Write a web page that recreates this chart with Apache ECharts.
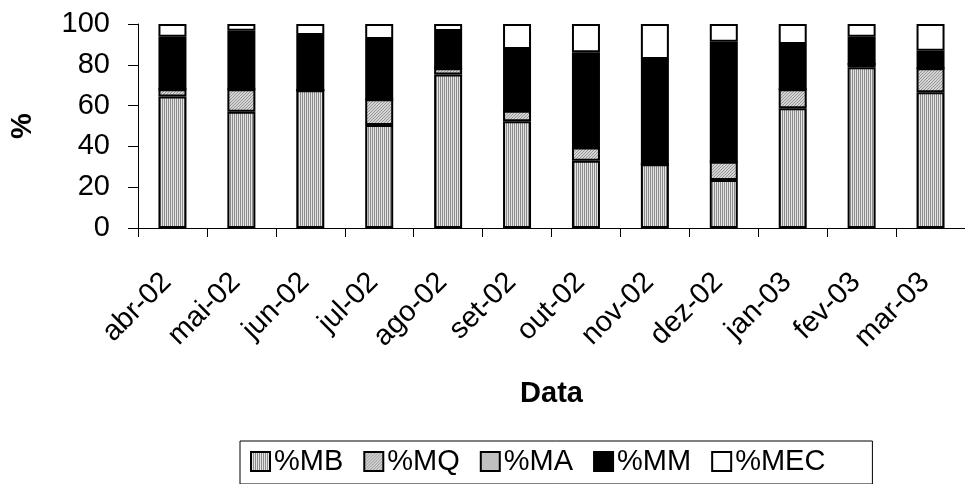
<!DOCTYPE html>
<html>
<head>
<meta charset="utf-8">
<script src="https://cdn.jsdelivr.net/npm/echarts@6/dist/echarts.min.js"></script>
<style>
  html, body { margin: 0; padding: 0; background: #fff; }
  #chart { width: 965px; height: 484px; }
</style>
</head>
<body>
<div id="chart"></div>
<script>
// Monthly share (%) of each class, stacked to 100
const months = ['abr-02', 'mai-02', 'jun-02', 'jul-02', 'ago-02', 'set-02',
                'out-02', 'nov-02', 'dez-02', 'jan-03', 'fev-03', 'mar-03'];
const pctMB  = [64.5, 57.0, 67.5, 50.5, 75.3, 52.3, 33.0, 31.2, 23.5, 58.7, 78.8, 66.5];
const pctMQ  = [3.5, 11.0, 0.0, 12.6, 3.0, 5.2, 6.5, 0.0, 9.0, 9.3, 1.6, 11.8];
const pctMA  = [0, 0, 0, 0, 0, 0, 0, 0, 0, 0, 0, 0];
const pctMM  = [25.8, 28.7, 27.1, 29.5, 18.3, 30.2, 46.6, 51.6, 58.8, 22.2, 13.4, 8.6];
const pctMEC = [6.2, 3.3, 5.4, 7.4, 3.4, 12.3, 13.9, 17.2, 8.7, 9.8, 6.2, 13.1];
const yTicks = [0, 20, 40, 60, 80, 100];

const FONT = '"Liberation Sans", Arial, sans-serif';

// Fill patterns built on small canvases
function tile(w, h, draw) {
  const c = document.createElement('canvas');
  c.width = w; c.height = h;
  const ctx = c.getContext('2d');
  draw(ctx);
  return { image: c, repeat: 'repeat' };
}
const vStripes = tile(2, 2, ctx => {
  ctx.fillStyle = '#e4e4e4'; ctx.fillRect(0, 0, 2, 2);
  ctx.fillStyle = '#8c8c8c'; ctx.fillRect(0, 0, 1, 2);
});
const diagHatch = tile(3, 3, ctx => {
  ctx.fillStyle = '#d4d4d4'; ctx.fillRect(0, 0, 3, 3);
  ctx.fillStyle = '#969696';
  for (let i = 0; i < 3; i++) ctx.fillRect(2 - i, i, 1, 1);
});

const names = ['%MB', '%MQ', '%MA', '%MM', '%MEC'];
const values = [pctMB, pctMQ, pctMA, pctMM, pctMEC];
const fills = [vStripes, diagHatch, '#c0c0c0', '#000000', '#ffffff'];

const chart = echarts.init(document.getElementById('chart'), null, { renderer: 'canvas' });
chart.setOption({
  animation: false,
  backgroundColor: '#ffffff',
  textStyle: { fontFamily: FONT, color: '#000' },
  grid: { left: 138, top: 24, width: 840, height: 204, containLabel: false },
  legend: {
    data: names,
    left: 240,
    top: 441,
    icon: 'rect',
    itemWidth: 19,
    itemHeight: 19,
    itemGap: 20,
    padding: [6, 47, 8, 10],
    borderColor: '#000',
    borderWidth: 1,
    textStyle: { fontSize: 29, fontFamily: FONT, color: '#000', padding: [0, 0, 0, -1] }
  },
  xAxis: {
    type: 'category',
    data: months,
    name: 'Data',
    nameLocation: 'middle',
    nameGap: 151,
    nameTextStyle: { fontSize: 29, fontWeight: 'bold', fontFamily: FONT, color: '#000' },
    axisLine: { lineStyle: { color: '#000', width: 1 } },
    axisTick: { show: true, length: 9, lineStyle: { color: '#000' } },
    axisLabel: {
      rotate: 45, fontSize: 29, fontFamily: FONT, color: '#000',
      margin: 44, padding: [0, 8, 0, 0], interval: 0
    }
  },
  yAxis: {
    type: 'value',
    min: yTicks[0],
    max: yTicks[yTicks.length - 1],
    interval: yTicks[1] - yTicks[0],
    name: '%',
    nameLocation: 'middle',
    nameRotate: 90,
    nameGap: 101,
    nameTextStyle: { fontSize: 29, fontWeight: 'bold', fontFamily: FONT, color: '#000' },
    splitLine: { show: false },
    axisLine: { show: true, lineStyle: { color: '#000', width: 1 } },
    axisTick: { show: true, length: 10, lineStyle: { color: '#000' } },
    axisLabel: { fontSize: 29, fontFamily: FONT, color: '#000', margin: 28 }
  },
  series: names.map((n, i) => ({
    name: n,
    type: 'bar',
    stack: 'total',
    barWidth: 28,
    data: values[i],
    itemStyle: { color: fills[i], borderColor: '#000', borderWidth: 2 },
    emphasis: { disabled: true }
  }))
});
</script>
</body>
</html>
